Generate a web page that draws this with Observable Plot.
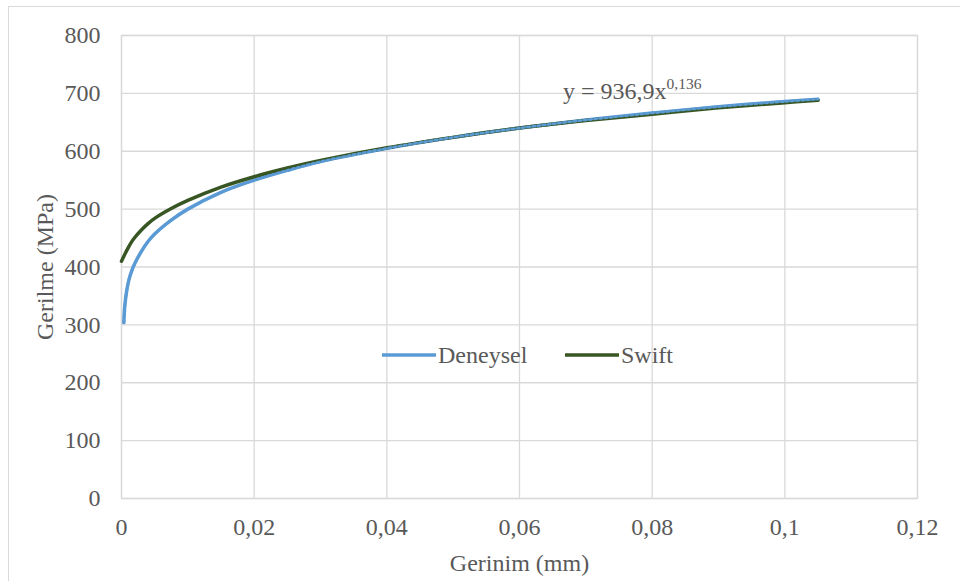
<!DOCTYPE html>
<html><head><meta charset="utf-8">
<script src="https://cdn.jsdelivr.net/npm/d3@7"></script>
<script src="https://cdn.jsdelivr.net/npm/@observablehq/plot@0.6"></script>
<style>
body{margin:0;background:#fff;}
#chart{position:relative;width:960px;height:581px;overflow:hidden;background:#fff;}
#chart svg, #chart text, #chart tspan{font-family:"Liberation Serif","Times New Roman",serif !important;}
#border{position:absolute;left:8px;top:6px;width:980px;height:600px;border:1px solid #d9d9d9;box-sizing:border-box;pointer-events:none;}
#overlay{position:absolute;left:0;top:0;}
</style></head><body><div id="chart"><div id="border"></div></div>
<script>
// ---- data ----
const seriesNames = ["Deneysel", "Swift"];
const deneyselStrain = [0.00035, 0.0005, 0.0008, 0.0011, 0.0015, 0.002, 0.003, 0.004, 0.005, 0.0075, 0.01, 0.015, 0.02, 0.025, 0.03, 0.04, 0.05, 0.06, 0.07, 0.08, 0.09, 0.1, 0.105];
const deneyselStress = [304, 333, 360, 377, 392, 406, 427, 444, 457, 481, 500, 529, 550, 567, 582, 605, 624, 640, 654, 666, 677, 686, 690];
const swiftStrain = [0, 0.0005, 0.001, 0.0015, 0.002, 0.003, 0.004, 0.005, 0.0075, 0.01, 0.015, 0.02, 0.025, 0.03, 0.04, 0.05, 0.06, 0.07, 0.08, 0.09, 0.1, 0.105];
const swiftStress = [410, 422, 433, 443, 451, 464, 475, 484, 501, 515, 538, 556, 571, 584, 606, 624, 640, 653, 664, 675, 684, 688];
const xTicks = [0, 0.02, 0.04, 0.06, 0.08, 0.1, 0.12];
const yTicks = [0, 100, 200, 300, 400, 500, 600, 700, 800];
const trendBase = "y = 936,9x";
const trendExp = "0,136";
const xTitle = "Gerinim (mm)";
const yTitle = "Gerilme (MPa)";
const colors = ["#5B9BD5", "#375623"];

const deneysel = deneyselStrain.map((x, i) => ({x, y: deneyselStress[i]}));
const swift = swiftStrain.map((x, i) => ({x, y: swiftStress[i]}));
const fmt = d => String(d).replace(".", ",");

const W = 960, H = 581;
const plot = Plot.plot({
  width: W, height: H,
  marginLeft: 121, marginRight: 43, marginTop: 35, marginBottom: 83,
  style: {fontFamily: "'Liberation Serif', 'Times New Roman', serif", fontSize: "24px", color: "#595959", background: "transparent"},
  x: {domain: [0, 0.12]},
  y: {domain: [0, 800]},
  marks: [
    Plot.gridX(xTicks, {stroke: "#d9d9d9", strokeOpacity: 1, strokeWidth: 1.3}),
    Plot.gridY(yTicks, {stroke: "#d9d9d9", strokeOpacity: 1, strokeWidth: 1.3}),
    Plot.frame({stroke: "#d9d9d9", strokeWidth: 1.3}),
    Plot.axisX(xTicks, {tickSize: 0, tickPadding: 19, tickFormat: fmt, label: xTitle, labelAnchor: "center", labelArrow: "none", labelOffset: 72, fontSize: 24}),
    Plot.axisY(yTicks, {tickSize: 0, tickPadding: 21, tickFormat: fmt, label: yTitle, labelAnchor: "center", labelArrow: "none", labelOffset: 86, fontSize: 24}),
    Plot.line(deneysel, {x: "x", y: "y", stroke: colors[0], strokeWidth: 3.5, curve: "catmull-rom"}),
    Plot.line(swift, {x: "x", y: "y", stroke: colors[1], strokeWidth: 3.5, curve: "catmull-rom"}),
    Plot.line(deneysel, {x: "x", y: "y", stroke: colors[0], strokeWidth: 2.6, strokeDasharray: "2.6 2.6", curve: "catmull-rom"})
  ]
});
const chart = document.getElementById("chart");
chart.appendChild(plot);

// overlay: legend and trendline equation
const ov = d3.select(chart).append("svg").attr("id", "overlay").attr("width", W).attr("height", H)
  .style("fill", "#595959");
const legendPos = [{x1: 382, x2: 436, tx: 438}, {x1: 565, x2: 619, tx: 621}];
seriesNames.forEach((name, i) => {
  const p = legendPos[i];
  ov.append("line").attr("x1", p.x1).attr("x2", p.x2).attr("y1", 355).attr("y2", 355)
    .attr("stroke", colors[i]).attr("stroke-width", 3.5);
  ov.append("text").attr("x", p.tx).attr("y", 363).attr("font-size", 24).attr("fill", "#595959").text(name);
});
const eq = ov.append("text").attr("x", 563).attr("y", 99).attr("font-size", 24).attr("fill", "#595959");
eq.append("tspan").text(trendBase);
eq.append("tspan").attr("font-size", 15.5).attr("dy", -10).text(trendExp);
</script>
</body></html>
